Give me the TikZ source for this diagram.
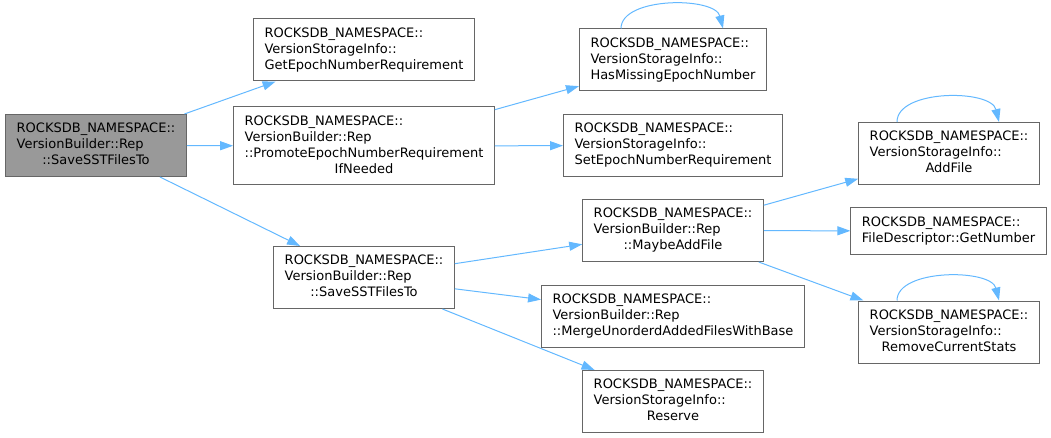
\documentclass[tikz,border=0pt]{standalone}
\usepackage{fontspec}
\setmainfont{DejaVu Sans}
\usepackage{tikz}
\usetikzlibrary{arrows.meta}
\definecolor{edgeblue}{HTML}{63B8FF}
\definecolor{boxgray}{HTML}{666666}
\definecolor{mainfill}{HTML}{999999}
\newcommand{\fnlabel}[2]{\begin{tabular}{@{}l@{}}#1\\\multicolumn{1}{@{}c@{}}{#2}\end{tabular}}

\begin{document}
\begin{tikzpicture}[
    x=1pt, y=-1pt,
    every node/.style={font=\fontsize{13}{16}\selectfont},
    fn/.style={rectangle, draw=boxgray, fill=white, line width=1pt, inner xsep=11pt, inner ysep=7pt},
    caller/.style={fn, fill=mainfill},
    call/.style={line width=1pt, -{Triangle[length=13pt,width=9pt]}, color=edgeblue}
]
\useasboundingbox (0,0) rectangle (1051,438);

% Nodes
\node[caller] (main) at (96,145.5) {\fnlabel{ROCKSDB\_NAMESPACE::\\VersionBuilder::Rep}{::SaveSSTFilesTo}};

\node[fn] (getepoch) at (364,50) {\fnlabel{ROCKSDB\_NAMESPACE::\\VersionStorageInfo::}{GetEpochNumberRequirement}};
\node[fn] (promote) at (364,146) {\fnlabel{ROCKSDB\_NAMESPACE::\\VersionBuilder::Rep\\::PromoteEpochNumberRequirement}{IfNeeded}};
\node[fn] (savesst) at (364,277.5) {\fnlabel{ROCKSDB\_NAMESPACE::\\VersionBuilder::Rep}{::SaveSSTFilesTo}};

\node[fn] (hasmiss) at (673,60) {\fnlabel{ROCKSDB\_NAMESPACE::\\VersionStorageInfo::}{HasMissingEpochNumber}};
\node[fn] (setepoch) at (673,145.5) {\fnlabel{ROCKSDB\_NAMESPACE::\\VersionStorageInfo::}{SetEpochNumberRequirement}};
\node[fn] (maybe) at (673,230.5) {\fnlabel{ROCKSDB\_NAMESPACE::\\VersionBuilder::Rep}{::MaybeAddFile}};
\node[fn] (merge) at (673,316) {\fnlabel{ROCKSDB\_NAMESPACE::\\VersionBuilder::Rep}{::MergeUnorderdAddedFilesWithBase}};
\node[fn] (reserve) at (673,401.5) {\fnlabel{ROCKSDB\_NAMESPACE::\\VersionStorageInfo::}{Reserve}};

\node[fn] (addfile) at (949,153.5) {\fnlabel{ROCKSDB\_NAMESPACE::\\VersionStorageInfo::}{AddFile}};
\node[fn] (getnum) at (948.5,231) {\fnlabel{ROCKSDB\_NAMESPACE::}{FileDescriptor::GetNumber}};
\node[fn] (rmstats) at (949,332) {\fnlabel{ROCKSDB\_NAMESPACE::\\VersionStorageInfo::}{RemoveCurrentStats}};

% Calls
\draw[call] (main) -- (getepoch);
\draw[call] (main) -- (promote);
\draw[call] (main) -- (savesst);

\draw[call] (promote) -- (hasmiss);
\draw[call] (promote) -- (setepoch);

\draw[call] (savesst) -- (maybe);
\draw[call] (savesst) -- (merge);
\draw[call] (savesst) -- (reserve);

\draw[call] (maybe) -- (addfile);
\draw[call] (maybe) -- (getnum);
\draw[call] (maybe) -- (rmstats);

% Recursive calls
\draw[call] ([xshift=-52pt]hasmiss.north) .. controls +(0,-32) and +(-8,-32) .. ([xshift=50pt]hasmiss.north);
\draw[call] ([xshift=-52pt]addfile.north) .. controls +(0,-33) and +(-8,-33) .. ([xshift=50pt]addfile.north);
\draw[call] ([xshift=-52pt]rmstats.north) .. controls +(0,-32) and +(-8,-32) .. ([xshift=50pt]rmstats.north);

\end{tikzpicture}
\end{document}
